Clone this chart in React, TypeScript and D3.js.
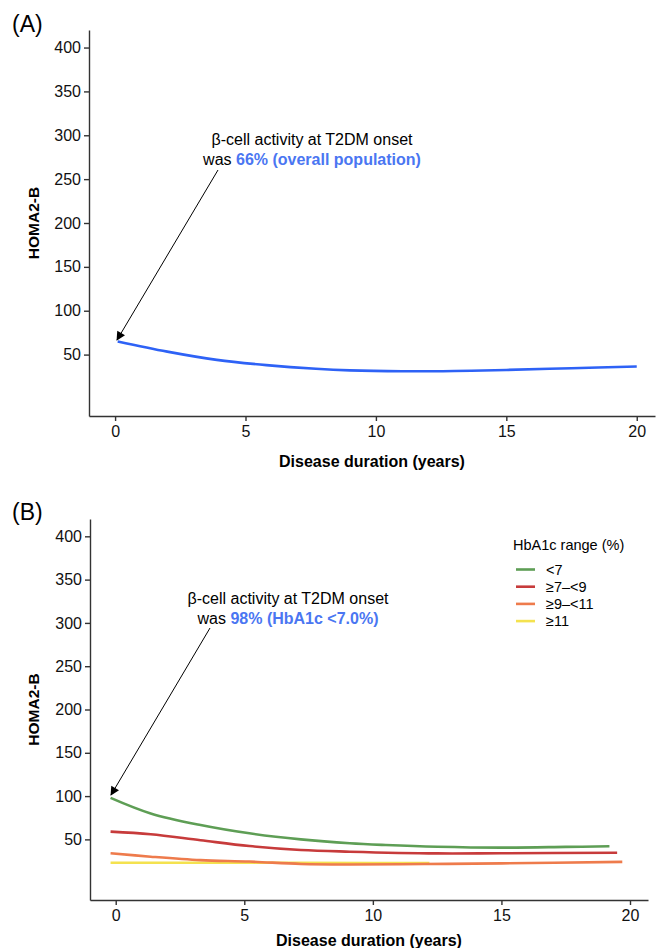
import React, { useRef, useEffect } from "react";
import * as d3 from "d3";

// panel A: overall population
const yearsA = [0.1, 2, 3.9, 5.8, 7.7, 9, 11, 13, 15, 17.5, 20];
const homaA = [65, 53.4, 44, 38, 33.8, 32, 31, 31.3, 32.5, 34.5, 36.5];

// panel B: by HbA1c range
const groupLabels = ["<7", "≥7–<9", "≥9–<11", "≥11"];
const groupColors = ["#5e9e55", "#c73b3b", "#ee7b4c", "#f4e24f"];
const yearsGreen = [-0.2, 1.36, 3.3, 5.2, 7.2, 9.1, 10.5, 12.5, 15, 17.5, 19.2];
const homaGreen = [98, 80, 66.6, 57, 50, 45.5, 43.5, 41.5, 40.5, 41.3, 42];
const yearsRed = [-0.2, 1.36, 3.3, 5.2, 7.2, 9.1, 12.5, 15, 19.5];
const homaRed = [59, 56, 49, 42.3, 37.7, 35.8, 33.8, 34, 34.6];
const yearsOrange = [-0.2, 1.36, 3.3, 5.2, 7.2, 9.1, 12, 15, 19.7];
const homaOrange = [34, 30, 26, 24.4, 21.6, 21, 21.5, 22.3, 24];
const yearsYellow = [-0.2, 5, 10, 12.2];
const homaYellow = [23, 23, 22.8, 22.7];

const yTicks = [50, 100, 150, 200, 250, 300, 350, 400];
const xTicks = [0, 5, 10, 15, 20];

const font = "'Liberation Sans', Arial, Helvetica, sans-serif";
const blueText = "#4a76f2";

const App = () => {
  const ref = useRef<SVGSVGElement | null>(null);

  useEffect(() => {
    const svg = d3.select(ref.current);
    svg.selectAll("*").remove();

    svg
      .append("defs")
      .append("marker")
      .attr("id", "arrow")
      .attr("viewBox", "0 0 10 10")
      .attr("refX", 9)
      .attr("refY", 5)
      .attr("markerWidth", 10)
      .attr("markerHeight", 9)
      .attr("markerUnits", "userSpaceOnUse")
      .attr("orient", "auto")
      .append("path")
      .attr("d", "M0,0L10,5L0,10Z")
      .attr("fill", "#000");

    function panel(opts: {
      letter: string;
      letterY: number;
      xRange: [number, number];
      yRange: [number, number];
      xLabelY: number;
      series: { xs: number[]; ys: number[]; color: string }[];
      note: { x: number; y: number; blue: string; from: [number, number]; to: [number, number] };
    }) {
      const x = d3.scaleLinear().domain([-1, 20.7]).range(opts.xRange);
      const y = d3.scaleLinear().domain([-20, 420]).range(opts.yRange);
      const g = svg.append("g");

      g.append("text")
        .attr("x", 12)
        .attr("y", opts.letterY)
        .attr("font-size", 23)
        .attr("font-family", font)
        .text(opts.letter);

      const yAxis = g
        .append("g")
        .attr("transform", `translate(${opts.xRange[0]},0)`)
        .call(d3.axisLeft(y).tickValues(yTicks).tickSize(5).tickSizeOuter(0).tickPadding(3));
      const xAxis = g
        .append("g")
        .attr("transform", `translate(0,${opts.yRange[0]})`)
        .call(d3.axisBottom(x).tickValues(xTicks).tickSize(5).tickSizeOuter(0).tickPadding(5));
      [yAxis, xAxis].forEach((a) => {
        a.selectAll("path, line").attr("stroke", "#333").attr("stroke-width", 1.4);
        a.selectAll("text").attr("font-size", 16).attr("font-family", font).attr("fill", "#111");
      });

      g.append("text")
        .attr("transform", `translate(39,${(opts.yRange[0] + opts.yRange[1]) / 2}) rotate(-90)`)
        .attr("text-anchor", "middle")
        .attr("font-size", 15.5)
        .attr("font-weight", "bold")
        .attr("font-family", font)
        .text("HOMA2-B");

      g.append("text")
        .attr("x", (opts.xRange[0] + opts.xRange[1]) / 2)
        .attr("y", opts.xLabelY)
        .attr("text-anchor", "middle")
        .attr("font-size", 16)
        .attr("font-weight", "bold")
        .attr("font-family", font)
        .text("Disease duration (years)");

      const line = d3
        .line<[number, number]>()
        .x((d) => x(d[0]))
        .y((d) => y(d[1]))
        .curve(d3.curveCatmullRom.alpha(0.5));

      opts.series.forEach((s) => {
        g.append("path")
          .attr("d", line(s.xs.map((v, i) => [v, s.ys[i]] as [number, number])))
          .attr("fill", "none")
          .attr("stroke", s.color)
          .attr("stroke-width", 2.6);
      });

      const t = g
        .append("text")
        .attr("x", opts.note.x)
        .attr("y", opts.note.y)
        .attr("text-anchor", "middle")
        .attr("font-size", 16)
        .attr("font-family", font);
      t.append("tspan").attr("x", opts.note.x).text("β-cell activity at T2DM onset");
      const l2 = t.append("tspan").attr("x", opts.note.x).attr("dy", 19.5);
      l2.append("tspan").text("was ");
      l2.append("tspan").attr("fill", blueText).attr("font-weight", "bold").text(opts.note.blue);

      g.append("line")
        .attr("x1", opts.note.from[0])
        .attr("y1", opts.note.from[1])
        .attr("x2", opts.note.to[0])
        .attr("y2", opts.note.to[1])
        .attr("stroke", "#000")
        .attr("stroke-width", 1)
        .attr("marker-end", "url(#arrow)");

      return { x, y, g };
    }

    panel({
      letter: "(A)",
      letterY: 32,
      xRange: [89, 655],
      yRange: [416, 30],
      xLabelY: 467,
      series: [{ xs: yearsA, ys: homaA, color: "#2e62f6" }],
      note: { x: 312, y: 145, blue: "66% (overall population)", from: [218, 170], to: [117, 340] },
    });

    const b = panel({
      letter: "(B)",
      letterY: 520,
      xRange: [90, 648],
      yRange: [900, 519],
      xLabelY: 946,
      series: [
        { xs: yearsYellow, ys: homaYellow, color: groupColors[3] },
        { xs: yearsOrange, ys: homaOrange, color: groupColors[2] },
        { xs: yearsRed, ys: homaRed, color: groupColors[1] },
        { xs: yearsGreen, ys: homaGreen, color: groupColors[0] },
      ],
      note: { x: 288, y: 604, blue: "98% (HbA1c <7.0%)", from: [210, 628], to: [111, 795] },
    });

    // legend
    const lg = b.g.append("g").attr("font-family", font).attr("font-size", 14.5);
    lg.append("text").attr("x", 513).attr("y", 550).text("HbA1c range (%)");
    groupLabels.forEach((lab, i) => {
      const yy = 569.5 + i * 17.2;
      lg.append("line")
        .attr("x1", 516)
        .attr("x2", 535)
        .attr("y1", yy)
        .attr("y2", yy)
        .attr("stroke", groupColors[i])
        .attr("stroke-width", 2.6);
      lg.append("text").attr("x", 546).attr("y", yy + 5).text(lab);
    });
  }, []);

  return (
    <svg
      ref={ref}
      width={659}
      height={948}
      style={{ position: "absolute", left: 0, top: 0, background: "#fff" }}
    />
  );
};

export default App;
